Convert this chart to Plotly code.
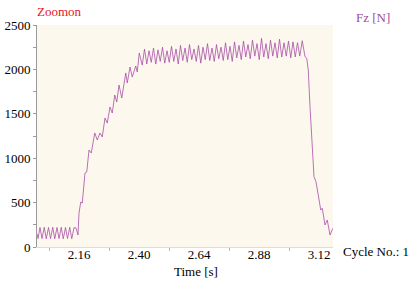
import plotly.graph_objects as go

time_s = [
    1.992, 1.996, 2.004, 2.012, 2.021, 2.029, 2.038, 2.046, 2.055, 2.063,
    2.072, 2.080, 2.089, 2.097, 2.106, 2.114, 2.123, 2.131, 2.140, 2.148,
    2.156, 2.160, 2.167, 2.173, 2.184, 2.191, 2.200, 2.209, 2.223, 2.233,
    2.244, 2.253, 2.264, 2.273, 2.284, 2.293, 2.303, 2.311, 2.320, 2.331,
    2.347, 2.353, 2.364, 2.373, 2.387, 2.393, 2.401, 2.413,
    2.422, 2.431, 2.440, 2.449, 2.458, 2.467, 2.476, 2.485, 2.494, 2.503,
    2.512, 2.521, 2.530, 2.539, 2.548, 2.557, 2.566, 2.575, 2.584, 2.593,
    2.602, 2.611, 2.620, 2.629, 2.638, 2.647, 2.656, 2.665, 2.674, 2.683,
    2.692, 2.701, 2.710, 2.719, 2.728, 2.737, 2.746, 2.755, 2.764, 2.773,
    2.782, 2.791, 2.800, 2.809, 2.818, 2.827, 2.836, 2.845, 2.854, 2.863,
    2.872, 2.881, 2.890, 2.899, 2.908, 2.917, 2.926, 2.935, 2.944, 2.953,
    2.962, 2.971, 2.980, 2.989, 2.998, 3.007, 3.016, 3.025, 3.034, 3.043,
    3.053, 3.064, 3.071, 3.077, 3.084, 3.091, 3.100, 3.108, 3.117, 3.127,
    3.133, 3.144, 3.153, 3.164, 3.175,
]

fz_n = [
    150, 95, 220, 95, 222, 92, 220, 95, 222, 93,
    220, 95, 222, 92, 220, 95, 222, 93, 218, 214,
    135, 383, 507, 495, 833, 845, 1092, 1058, 1284, 1205,
    1284, 1239, 1453, 1396, 1577, 1509, 1712, 1633, 1824, 1678,
    1960, 1847, 2027, 1914, 2038, 1970, 2184, 2049,
    2230, 2060, 2210, 2080, 2240, 2060, 2220, 2090, 2250, 2070,
    2210, 2080, 2260, 2090, 2230, 2060, 2270, 2100, 2240, 2080,
    2280, 2110, 2230, 2090, 2270, 2070, 2250, 2110, 2290, 2100,
    2240, 2090, 2280, 2120, 2250, 2100, 2300, 2110, 2260, 2090,
    2310, 2130, 2270, 2110, 2320, 2140, 2280, 2120, 2330, 2150,
    2290, 2110, 2350, 2140, 2290, 2120, 2330, 2150, 2300, 2130,
    2340, 2140, 2300, 2150, 2320, 2130, 2310, 2140, 2300, 2150,
    2323, 2143, 2125, 1993, 1580, 1242, 792, 735, 605, 417,
    436, 248, 304, 135, 210,
]

x_tickvals = [2.16, 2.40, 2.64, 2.88, 3.12]
x_ticktext = ["2.16", "2.40", "2.64", "2.88", "3.12"]
x_minor_ticks = [2.04, 2.28, 2.52, 2.76, 3.00]
y_tickvals = [0, 500, 1000, 1500, 2000, 2500]
y_minor_ticks = [250, 750, 1250, 1750, 2250]

FONT = "Times New Roman, Liberation Serif, serif"
FS = 13

fig = go.Figure()
fig.add_trace(go.Scatter(
    x=time_s, y=fz_n, mode="lines",
    line=dict(color="#a84ea8", width=0.8),
    hoverinfo="skip", showlegend=False,
))

fig.update_layout(
    width=412, height=282,
    margin=dict(l=37, r=79, t=25, b=35, autoexpand=False),
    paper_bgcolor="white",
    plot_bgcolor="#fdf8ee",
    font=dict(family=FONT, size=FS, color="black"),
    hovermode=False,
    xaxis=dict(
        range=[1.992, 3.176], tickvals=x_tickvals, ticktext=x_ticktext,
        showgrid=False, zeroline=False, showline=True, linecolor="#dddddd", linewidth=1,
        ticks="", ticklabelstandoff=-5,
        minor=dict(tickvals=x_minor_ticks, ticks="outside", ticklen=3, tickcolor="#bbbbbb"),
        tickfont=dict(family=FONT, size=FS), fixedrange=True, automargin=False,
    ),
    yaxis=dict(
        range=[0, 2500], tickvals=y_tickvals,
        showgrid=False, zeroline=False, showline=True, linecolor="#9a9a9a", linewidth=1,
        ticks="outside", ticklen=3, tickcolor="#9a9a9a",
        minor=dict(tickvals=y_minor_ticks, ticks="outside", ticklen=3, tickcolor="#9a9a9a"),
        tickfont=dict(family=FONT, size=FS), fixedrange=True, automargin=False,
    ),
    annotations=[
        dict(text="Zoomon", xref="paper", yref="paper", x=-0.008, y=1.059,
             xanchor="left", yanchor="middle", showarrow=False,
             font=dict(family=FONT, size=FS, color="#e8141e")),
        dict(text="Fz [N]", xref="paper", yref="paper", x=1.071, y=1.032,
             xanchor="left", yanchor="middle", showarrow=False,
             font=dict(family=FONT, size=FS, color="#9c4a9c")),
        dict(text="Cycle No.: 1", xref="paper", yref="paper", x=1.027, y=-0.0225,
             xanchor="left", yanchor="middle", showarrow=False,
             font=dict(family=FONT, size=FS, color="black")),
        dict(text="Time [s]", xref="paper", yref="paper", x=0.537, y=-0.112,
             xanchor="center", yanchor="middle", showarrow=False,
             font=dict(family=FONT, size=FS, color="black")),
    ],
)

fig.write_html("out.html", config={"displayModeBar": False},
               post_script="document.body.style.margin='0px';")
